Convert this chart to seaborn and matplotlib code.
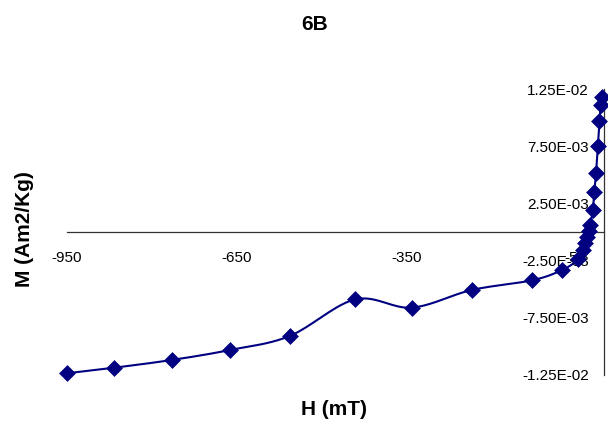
import numpy as np
import matplotlib
matplotlib.use("Agg")
import matplotlib.pyplot as plt
import seaborn as sns

# values (H in mT, M in Am2/Kg)
field_mt = [-950, -866, -765, -661, -556, -440, -340, -234, -127, -74, -46,
            -38, -33, -30, -27, -24, -20, -17, -14, -11, -8, -6, -4]
moment = [-0.01235, -0.01186, -0.01119, -0.01031, -0.00909, -0.00589,
          -0.00661, -0.00507, -0.00422, -0.00332, -0.0024, -0.00157,
          -0.0010, -0.0004, 0.00005, 0.0006, 0.0019, 0.0035, 0.0052,
          0.0075, 0.0097, 0.0111, 0.0118]

x_ticks = [-950, -650, -350, -50]
y_ticks = [-0.0125, -0.0075, -0.0025, 0.0025, 0.0075, 0.0125]
y_labels = ["-1.25E-02", "-7.50E-03", "-2.50E-03", "2.50E-03", "7.50E-03", "1.25E-02"]

NAVY = "#000080"


def smooth_curve(x, y, steps=20):
    """Catmull-Rom pass through the points, like Excel's smoothed line."""
    pts = np.column_stack([x, y]).astype(float)
    # normalise so the curve shape does not depend on axis units
    scale = np.array([1000.0, 0.025])
    p = pts / scale
    p = np.vstack([p[0], p, p[-1]])
    out = []
    for i in range(1, len(p) - 2):
        p0, p1, p2, p3 = p[i - 1], p[i], p[i + 1], p[i + 2]
        t = np.linspace(0, 1, steps, endpoint=False)[:, None]
        seg = 0.5 * ((2 * p1) + (-p0 + p2) * t
                     + (2 * p0 - 5 * p1 + 4 * p2 - p3) * t ** 2
                     + (-p0 + 3 * p1 - 3 * p2 + p3) * t ** 3)
        out.append(seg)
    out.append(p[-2][None, :])
    out = np.vstack(out) * scale
    return out[:, 0], out[:, 1]


sns.set_style("white")
plt.rcParams['font.family'] = ['Liberation Sans', 'DejaVu Sans']
plt.rcParams['text.color'] = 'black'

fig = plt.figure(figsize=(6.08, 4.23), dpi=100)
ax = fig.add_axes([67 / 608, 1 - 375 / 423, (604 - 67) / 608, (375 - 89) / 423])

sx, sy = smooth_curve(field_mt, moment)
ax.plot(sx, sy, color=NAVY, lw=1.5, clip_on=False, zorder=3)
sns.scatterplot(x=field_mt, y=moment, ax=ax, marker="D", s=65, color=NAVY,
                edgecolor=NAVY, linewidth=0.5, clip_on=False, zorder=4)

ax.set_xlim(-950, 0)
ax.set_ylim(-0.0125, 0.0125)

for side in ["top", "right"]:
    ax.spines[side].set_visible(False)
ax.spines["left"].set_position(("data", 0))
ax.spines["bottom"].set_position(("data", 0))
for side in ["left", "bottom"]:
    ax.spines[side].set_color("#333333")
    ax.spines[side].set_linewidth(0.9)

ax.set_xticks(x_ticks)
ax.set_xticklabels([str(v) for v in x_ticks])
ax.set_yticks(y_ticks)
ax.set_yticklabels(y_labels)
ax.tick_params(axis="x", direction="out", length=5, width=0.9, pad=9,
               labelsize=11, colors="#333333", labelcolor="black")
ax.tick_params(axis="y", direction="out", length=5, width=0.9, pad=6,
               labelsize=11, colors="#333333", labelcolor="black")
ax.set_xlabel("")
ax.set_ylabel("")

fig.text(315 / 608, 1 - 25 / 423, "6B", ha="center", va="center",
         fontsize=15, fontweight="bold")
fig.text(334 / 608, 1 - 409 / 423, "H (mT)", ha="center", va="center",
         fontsize=15, fontweight="bold")
fig.text(24 / 608, 1 - 229 / 423, "M (Am2/Kg)", ha="center", va="center",
         rotation=90, fontsize=15, fontweight="bold")

fig.savefig("out.png", dpi=100, facecolor="white")
